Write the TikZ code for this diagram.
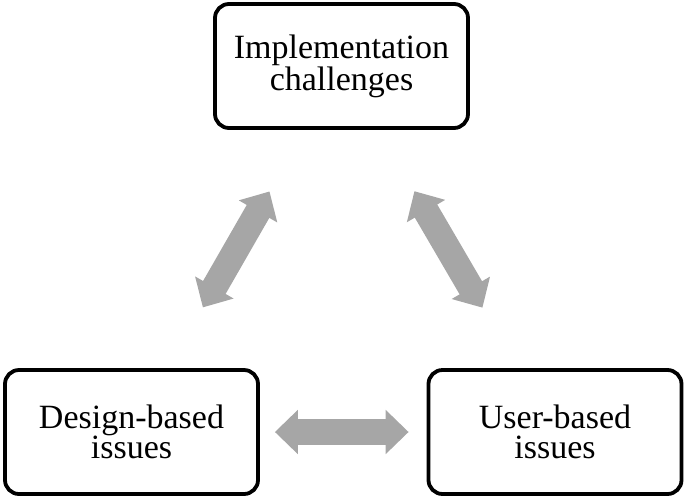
\documentclass[tikz,border=0pt]{standalone}
\usepackage{fontspec}
\setmainfont{Liberation Serif}
\usetikzlibrary{arrows.meta}
\definecolor{arrowgray}{RGB}{166,166,166}
\tikzset{
  box/.style={draw=black, line width=3.8pt, rounded corners=14pt, fill=white,
    minimum width=253pt, minimum height=124pt, inner sep=0pt,
    align=center, font=\fontsize{34}{30.5}\selectfont},
  dblarrow/.style={draw=arrowgray, line width=26pt,
    {Triangle[length=23pt,width=43pt]}-{Triangle[length=23pt,width=43pt]}}
}
\begin{document}
\begin{tikzpicture}[x=1pt,y=-1pt]
\useasboundingbox (0,0) rectangle (685,499);
\node[box] (top) at (341.5,66) {Implementation\\challenges};
\node[box] (bl) at (131.5,432) {Design-based\\issues};
\node[box] (br) at (555,432) {User-based\\issues};
\draw[dblarrow, shorten <=70pt, shorten >=71pt] (bl) -- (top);
\draw[dblarrow, shorten <=71pt, shorten >=70pt] (top) -- (br);
\draw[dblarrow, shorten <=15pt, shorten >=18pt] (bl) -- (br);
\end{tikzpicture}
\end{document}
